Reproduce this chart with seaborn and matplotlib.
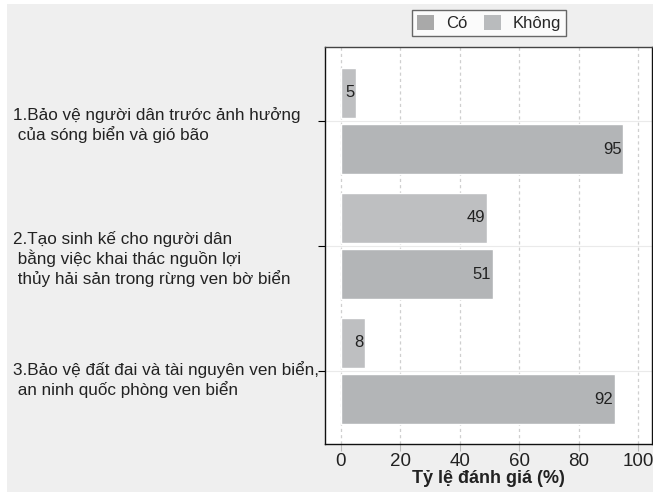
import numpy as np
import pandas as pd
import matplotlib
matplotlib.use("Agg")
import matplotlib.pyplot as plt
import matplotlib.transforms as mtransforms
from matplotlib.patches import Patch, Rectangle
import seaborn as sns

categories = [
    "1.Bảo vệ người dân trước ảnh hưởng\n của sóng biển và gió bão",
    "2.Tạo sinh kế cho người dân\n bằng việc khai thác nguồn lợi\n thủy hải sản trong rừng ven bờ biển",
    "3.Bảo vệ đất đai và tài nguyên ven biển,\n an ninh quốc phòng ven biển",
]
groups = ["Có", "Không"]
co_values = [5, 49, 8]
khong_values = [95, 51, 92]
x_ticks = [0, 20, 40, 60, 80, 100]
x_label = "Tỷ lệ đánh giá (%)"

rows = []
for i, c in enumerate(categories):
    rows.append({"cat": c, "group": "Có", "value": co_values[i]})
    rows.append({"cat": c, "group": "Không", "value": khong_values[i]})
df = pd.DataFrame(rows)

sns.set_theme(style="white")
plt.rcParams["font.family"] = ["Liberation Sans", "DejaVu Sans"]

W, H = 653, 492
fig = plt.figure(figsize=(W / 100, H / 100), dpi=100)
fig.patch.set_facecolor("white")
fig.patches.append(Rectangle((7 / W, 0), 1 - 7 / W, 1 - 4 / H, transform=fig.transFigure,
                             facecolor="#efefef", edgecolor="none", zorder=-10))

ax = fig.add_axes([325 / W, 1 - 444 / H, (652 - 325) / W, (444 - 47) / H])
ax.set_facecolor("white")

palette = {"Có": "#bebfc1", "Không": "#b3b5b7"}
sns.barplot(data=df, y="cat", x="value", hue="group", order=categories, hue_order=groups,
            orient="h", palette=palette, width=0.908, gap=0.123, saturation=1,
            legend=False, ax=ax, zorder=3)

ax.set_xlim(-5.3, 104.6)
ax.set_ylim(2.584, -0.592)
ax.set_xticks(x_ticks)
ax.set_xticklabels([str(t) for t in x_ticks], fontsize=13.5, color="#222222")
ax.set_yticks(range(len(categories)))
ax.set_yticklabels([])
ax.set_xlabel(x_label, fontsize=13, fontweight="bold", color="#222222", labelpad=0)
ax.set_ylabel("")

for x in x_ticks:
    ax.axvline(x, color="#cfcfcf", lw=0.9, ls=(0, (2.5, 2.5)), zorder=1)
for y in range(len(categories)):
    ax.axhline(y, color="#eaeaea", lw=0.8, zorder=1)

ax.tick_params(axis="x", length=5, width=0.8, color="#bbbbbb", pad=1.5, direction="out", bottom=True)
ax.tick_params(axis="y", length=5, width=0.8, color="#000000", direction="out", left=True)
for s in ax.spines.values():
    s.set_color("#111111")
    s.set_linewidth(1.0)
ax.spines["top"].set_color("#444444")

for container in ax.containers:
    ax.bar_label(container, labels=[f"{v:g}" for v in container.datavalues],
                 padding=-1, fontsize=12, color="#222222", label_type="edge")
for t in ax.texts:
    t.set_ha("right")

trans = mtransforms.blended_transform_factory(fig.transFigure, ax.transData)
offsets = [0.11, 0.12, 0.08]
for i, c in enumerate(categories):
    ax.text(13 / W, i - offsets[i], c, transform=trans, ha="left", va="top",
            fontsize=12.3, color="#222222", linespacing=1.2, clip_on=False)

handles = [Patch(facecolor="#a9a9a9", edgecolor="none", label="Có"),
           Patch(facecolor="#b9bbbd", edgecolor="none", label="Không")]
leg = fig.legend(handles=handles, loc="center", bbox_to_anchor=(489 / W, 1 - 22.7 / H),
                 ncol=2, frameon=True, fancybox=False, fontsize=12,
                 handlelength=1.0, handleheight=1.0, handletextpad=0.7,
                 columnspacing=1.0, borderpad=0.3)
leg.get_frame().set_edgecolor("#444444")
leg.get_frame().set_linewidth(1.0)
leg.get_frame().set_facecolor("white")

fig.savefig("out.png", dpi=100)
